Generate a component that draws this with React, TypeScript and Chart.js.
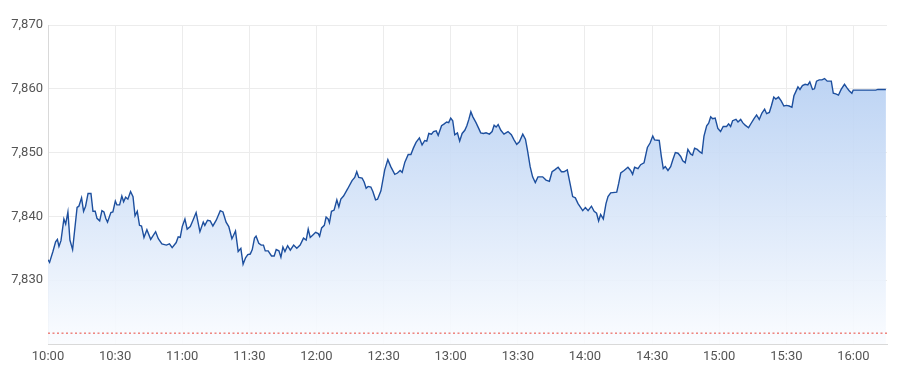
import React, { useEffect, useRef } from "react";
import { Chart, registerables } from "chart.js";

Chart.register(...registerables);

// minutes after 10:00
const minutes = [
  0, 0.7, 2.2, 3.4, 4.2, 4.9, 5.8, 7.1, 7.9, 8.9, 9.8, 11.0, 13.0, 13.8, 15.0, 15.9, 16.8, 17.9, 19.2, 20.1,
  21.1, 21.9, 23.1, 24.1, 25.0, 25.8, 26.6, 28.1, 29.0, 30.1, 30.8, 32.0, 33.0, 33.8, 34.7, 35.7, 36.9, 38.0, 38.9, 39.9,
  40.9, 41.8, 42.9, 44.2, 45.9, 48.1, 49.3, 50.9, 52.9, 54.3, 55.5, 57.3, 58.2, 59.1, 60.0, 61.2, 62.2, 63.6, 64.8, 66.2,
  67.9, 69.4, 70.1, 71.3, 72.5, 73.7, 75.2, 77.0, 78.2, 79.6, 80.8, 82.2, 82.9, 83.8, 85.0, 86.2, 87.2, 88.3, 89.3, 90.4,
  91.3, 92.3, 93.0, 94.2, 95.3, 96.3, 97.1, 98.4, 99.9, 101.1, 102.0, 103.2, 104.1, 105.0, 105.9, 107.1, 108.3, 109.8, 111.2, 112.7,
  114.2, 115.4, 116.3, 117.2, 118.4, 119.6, 120.8, 121.4, 122.3, 123.5, 124.3, 125.2, 125.8, 126.7, 127.9, 129.1, 130.0, 130.9, 132.1, 133.9,
  135.9, 137.1, 138.0, 138.9, 140.4, 141.3, 142.2, 143.1, 144.3, 145.2, 146.4, 147.3, 148.8, 150.5, 151.9, 153.2, 155.0, 156.2, 157.4, 158.3,
  159.5, 161.0, 162.2, 163.3, 164.5, 166.0, 167.2, 168.4, 169.3, 170.2, 171.4, 172.3, 173.5, 174.4, 175.9, 177.1, 178.2, 179.1, 180.0, 180.9,
  181.8, 183.0, 184.0, 185.1, 186.3, 187.2, 188.1, 189.0, 189.9, 191.3, 192.5, 193.4, 194.6, 195.8, 197.3, 198.5, 199.4, 200.3, 201.2, 202.4,
  203.8, 205.6, 207.1, 208.3, 209.5, 210.7, 212.2, 213.4, 214.3, 215.5, 216.6, 217.8, 219.0, 221.1, 222.6, 224.1, 225.3, 226.5, 228.0, 229.5,
  230.6, 232.1, 233.3, 234.5, 235.7, 236.9, 239.0, 240.2, 241.4, 242.9, 244.1, 245.2, 246.1, 247.0, 248.2, 249.4, 250.3, 251.5, 254.2, 255.1,
  256.0, 257.5, 259.2, 260.4, 261.3, 262.2, 263.7, 264.9, 266.4, 267.9, 269.1, 270.3, 271.1, 273.2, 274.1, 275.0, 275.9, 277.1, 278.3, 279.2,
  280.4, 281.6, 282.8, 283.7, 284.8, 286.0, 287.2, 288.1, 289.0, 290.2, 291.4, 292.3, 293.2, 294.4, 295.3, 296.2, 297.1, 298.2, 299.4, 300.6,
  301.8, 303.3, 304.2, 305.1, 306.0, 307.5, 308.4, 309.6, 310.5, 311.6, 313.1, 314.3, 315.5, 316.7, 317.9, 319.1, 320.3, 321.2, 322.4, 323.3,
  324.4, 325.3, 326.5, 327.7, 328.9, 330.1, 331.3, 332.5, 333.4, 334.3, 335.2, 336.1, 337.2, 338.4, 339.6, 340.5, 341.7, 342.6, 343.5, 344.7,
  345.9, 347.1, 348.3, 350.1, 351.0, 352.1, 353.3, 354.5, 356.0, 357.2, 358.1, 359.3, 359.9, 370.0, 370.9, 374.5,
];

const prices = [
  7833.2, 7832.8, 7834.5, 7836.0, 7836.4, 7835.3, 7836.2, 7839.6, 7838.8, 7840.7, 7836.3, 7834.8, 7841.4, 7841.6, 7842.9, 7840.8, 7841.6, 7843.6, 7843.6, 7840.8,
  7840.8, 7839.7, 7839.3, 7840.9, 7840.7, 7839.7, 7839.1, 7840.6, 7840.7, 7842.4, 7841.8, 7841.8, 7843.2, 7842.3, 7843.0, 7842.7, 7843.9, 7843.1, 7840.1, 7840.8,
  7838.6, 7838.5, 7836.7, 7837.9, 7836.4, 7837.6, 7836.5, 7835.7, 7835.5, 7835.7, 7835.1, 7835.9, 7836.8, 7836.7, 7838.4, 7839.6, 7838.0, 7838.4, 7839.4, 7840.6,
  7837.6, 7839.1, 7838.6, 7839.4, 7839.3, 7838.5, 7839.4, 7840.9, 7840.7, 7839.1, 7838.4, 7836.5, 7837.0, 7837.7, 7834.5, 7835.0, 7832.5, 7833.5, 7834.0, 7834.1,
  7834.8, 7836.6, 7836.9, 7835.8, 7835.5, 7835.5, 7834.6, 7834.6, 7833.8, 7833.8, 7834.8, 7834.6, 7833.6, 7835.2, 7834.5, 7835.4, 7834.7, 7835.5, 7835.0, 7835.5,
  7836.6, 7836.3, 7838.0, 7836.7, 7837.1, 7837.5, 7837.3, 7836.9, 7838.2, 7838.6, 7839.9, 7839.6, 7839.0, 7840.8, 7841.0, 7842.6, 7841.5, 7842.7, 7843.2, 7844.3,
  7845.6, 7846.1, 7847.0, 7846.1, 7846.0, 7845.4, 7844.4, 7844.7, 7844.6, 7843.9, 7842.6, 7842.7, 7844.0, 7847.3, 7848.9, 7847.8, 7846.6, 7846.8, 7847.2, 7846.9,
  7848.5, 7849.7, 7849.7, 7850.7, 7851.6, 7852.3, 7851.2, 7851.9, 7851.8, 7853.0, 7852.9, 7853.3, 7853.4, 7852.7, 7854.2, 7854.5, 7854.8, 7854.7, 7855.4, 7855.0,
  7852.8, 7853.1, 7851.8, 7853.0, 7853.5, 7854.2, 7855.2, 7856.4, 7855.6, 7854.7, 7853.8, 7853.1, 7853.0, 7853.1, 7852.9, 7853.3, 7854.3, 7854.0, 7854.4, 7853.5,
  7852.9, 7853.3, 7852.8, 7852.0, 7851.3, 7851.7, 7852.9, 7852.1, 7850.4, 7847.8, 7846.2, 7845.3, 7846.2, 7846.2, 7845.7, 7845.5, 7847.0, 7847.3, 7847.7, 7847.0,
  7847.0, 7847.3, 7845.2, 7843.1, 7842.9, 7842.0, 7840.9, 7841.4, 7840.9, 7841.6, 7840.8, 7840.5, 7839.3, 7840.3, 7839.6, 7842.0, 7843.1, 7843.7, 7843.8, 7845.2,
  7846.8, 7847.2, 7847.7, 7847.2, 7846.6, 7847.7, 7847.5, 7848.1, 7848.4, 7850.8, 7851.5, 7852.6, 7852.0, 7851.9, 7849.5, 7847.5, 7847.8, 7847.2, 7847.8, 7848.8,
  7850.0, 7849.9, 7849.4, 7848.7, 7848.4, 7850.5, 7849.8, 7849.6, 7850.7, 7850.5, 7850.1, 7849.9, 7852.6, 7854.2, 7854.6, 7855.6, 7855.3, 7855.4, 7853.8, 7853.3,
  7854.1, 7854.1, 7854.5, 7854.1, 7855.0, 7855.2, 7854.8, 7855.2, 7854.7, 7854.3, 7853.9, 7854.6, 7855.3, 7855.9, 7855.2, 7856.2, 7856.8, 7856.1, 7856.3, 7857.3,
  7858.7, 7858.4, 7858.7, 7858.1, 7857.3, 7857.4, 7857.3, 7857.1, 7858.9, 7859.6, 7860.3, 7859.9, 7860.5, 7860.7, 7860.6, 7861.1, 7859.9, 7860.0, 7861.2, 7861.4,
  7861.4, 7861.6, 7861.2, 7861.2, 7859.3, 7859.2, 7859.0, 7859.9, 7860.7, 7860.1, 7859.7, 7859.3, 7859.8, 7859.8, 7859.9, 7859.9,
];

const prevClose = 7821.7;
const xTickMinutes = [0, 30, 60, 90, 120, 150, 180, 210, 240, 270, 300, 330, 360];
const xTickLabels = ["10:00", "10:30", "11:00", "11:30", "12:00", "12:30", "13:00", "13:30", "14:00", "14:30", "15:00", "15:30", "16:00"];
const yTicks = [7820, 7830, 7840, 7850, 7860, 7870];

export default function App() {
  const ref = useRef<HTMLCanvasElement | null>(null);

  useEffect(() => {
    if (!ref.current) return;
    const chart = new Chart(ref.current, {
      type: "line",
      data: {
        datasets: [
          {
            order: 1,
            data: minutes.map((m, i) => ({ x: m, y: prices[i] })),
            borderColor: "#1d4f9e",
            borderWidth: 1.4,
            pointRadius: 0,
            tension: 0,
            fill: "start",
            backgroundColor: (ctx: any) => {
              const { chart } = ctx;
              const area = chart.chartArea;
              if (!area) return "rgba(0,0,0,0)";
              const g = chart.ctx.createLinearGradient(0, area.top, 0, area.bottom);
              g.addColorStop(0, "rgba(168,198,240,0.9)");
              g.addColorStop(1, "rgba(250,252,255,0.9)");
              return g;
            },
          },
          {
            order: 0,
            data: [
              { x: 0, y: prevClose },
              { x: 375, y: prevClose },
            ],
            borderColor: "#e8463c",
            borderWidth: 1,
            borderDash: [2, 2.5],
            pointRadius: 0,
            fill: false,
          },
        ],
      },
      options: {
        animation: false,
        responsive: true,
        maintainAspectRatio: false,
        layout: { padding: { top: 25, right: 13, left: 0, bottom: 0 } },
        plugins: { legend: { display: false }, tooltip: { enabled: false } },
        scales: {
          x: {
            type: "linear",
            min: 0,
            max: 375,
            afterBuildTicks: (scale: any) => {
              scale.ticks = xTickMinutes.map((v) => ({ value: v }));
            },
            afterFit: (scale: any) => {
              scale.height = 31;
            },
            ticks: {
              autoSkip: false,
              maxRotation: 0,
              padding: 5,
              color: "#555",
              font: { family: "Roboto", size: 13 },
              callback: (v: any) => {
                const i = xTickMinutes.indexOf(Number(v));
                return i >= 0 ? xTickLabels[i] : "";
              },
            },
            grid: { color: "#ececec", drawTicks: false },
            border: { color: "#d9d9d9" },
          },
          y: {
            min: 7820,
            max: 7870,
            afterBuildTicks: (scale: any) => {
              scale.ticks = yTicks.map((v) => ({ value: v }));
            },
            afterFit: (scale: any) => {
              scale.width = 48;
            },
            ticks: {
              padding: 5,
              color: "#555",
              font: { family: "Roboto", size: 13 },
              callback: (v: any) => (Number(v) === 7820 ? "" : Number(v).toLocaleString("en-US")),
            },
            grid: { color: "#ececec", drawTicks: false },
            border: { color: "#d9d9d9" },
          },
        },
      },
    });
    return () => chart.destroy();
  }, []);

  return (
    <div style={{ position: "fixed", left: 0, top: 0, width: 900, height: 375, background: "#fff" }}>
      <canvas ref={ref} />
    </div>
  );
}
